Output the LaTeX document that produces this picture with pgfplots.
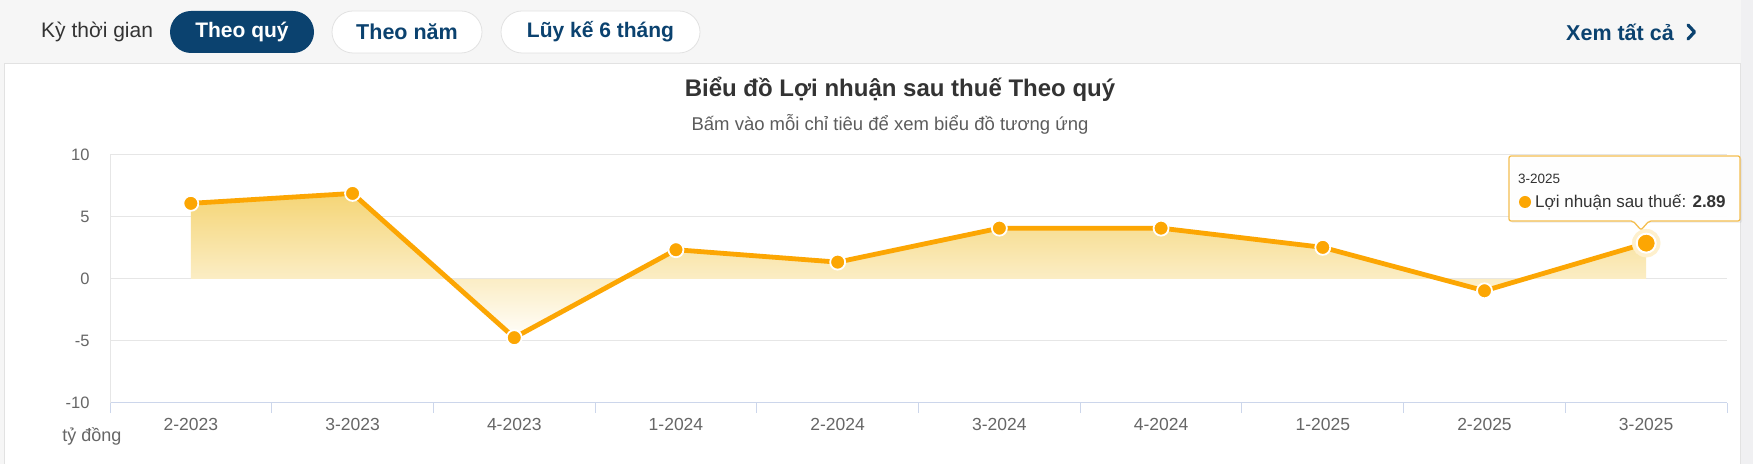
\documentclass[border=0pt]{standalone}
\usepackage{pgfplots}
\pgfplotsset{compat=1.18}
\usepackage{fontspec}
\setmainfont{Liberation Sans}
\definecolor{lineorange}{RGB}{252,166,3}
\definecolor{navy}{RGB}{11,66,111}
\definecolor{gridc}{RGB}{230,230,230}
\definecolor{axisc}{RGB}{204,214,235}
\definecolor{txt}{RGB}{51,51,51}
\definecolor{tickc}{RGB}{102,102,102}
\definecolor{bgray}{RGB}{246,246,246}
\definecolor{stripc}{RGB}{240,240,242}
\definecolor{pillborder}{RGB}{226,226,226}
\definecolor{tipborder}{RGB}{244,190,80}
\definecolor{filltop}{RGB}{245,213,118}
\definecolor{fillmid}{RGB}{253,244,218}
\definecolor{fillbot}{RGB}{255,254,251}
\definecolor{halo}{RGB}{254,240,205}
\newcommand\fs[1]{\fontsize{#1bp}{#1bp}\selectfont}

\pgfplotstableread{
x y
0 6.10
1 6.90
2 -4.73
3 2.36
4 1.36
5 4.10
6 4.10
7 2.55
8 -0.95
9 2.89
}\profit

\begin{document}
\begin{tikzpicture}[x=1bp,y=1bp]
\useasboundingbox (0,0) rectangle (1753,464);
% page background
\fill[bgray] (0,0) rectangle (1753,464);
\fill[stripc] (1741,0) rectangle (1753,464);
\fill[white] (5,0) rectangle (1740,400);
\draw[pillborder, line width=0.8bp] (4.5,0) -- (4.5,400.5) -- (1740.5,400.5) -- (1740.5,0);
% header
\node[anchor=west, font=\fs{21}, text=txt, inner sep=0] at (41,432) {Kỳ thời gian};
\fill[navy, rounded corners=21bp] (170,411) rectangle (314,453);
\node[font=\fs{21}\bfseries, text=white] at (242,432) {Theo quý};
\draw[pillborder, fill=white, rounded corners=21bp, line width=0.8bp] (332,411) rectangle (482,453);
\node[font=\fs{21.5}\bfseries, text=navy] at (407,432) {Theo năm};
\draw[pillborder, fill=white, rounded corners=21bp, line width=0.8bp] (501,411) rectangle (700,453);
\node[font=\fs{21}\bfseries, text=navy] at (600.5,432) {Lũy kế 6 tháng};
\node[anchor=west, font=\fs{21.5}\bfseries, text=navy, inner sep=0] at (1566,432) {Xem tất cả};
\draw[navy, line width=3.2bp, line cap=round, line join=round] (1688,439) -- (1694.5,432) -- (1688,425);
% titles
\node[font=\fs{24}\bfseries, text=txt] at (900,375) {Biểu đồ Lợi nhuận sau thuế Theo quý};
\node[font=\fs{18.5}, text=tickc!90!black] at (890,340) {Bấm vào mỗi chỉ tiêu để xem biểu đồ tương ứng};
\node[font=\fs{18}, text=tickc, inner sep=0] at (92,28) {tỷ đồng};

\begin{axis}[
  at={(110bp,61bp)}, anchor=south west,
  scale only axis, width=1617bp, height=248bp,
  xmin=-0.5, xmax=9.5, ymin=-10, ymax=10,
  clip=false,
  /pgf/number format/assume math mode=true,
  axis x line*=bottom, axis y line*=left,
  x axis line style={-, draw=axisc, line width=1bp},
  y axis line style={-, draw=gridc, line width=1bp},
  ytick={-10,-5,0,5,10},
  ymajorgrids, grid style={draw=gridc, line width=1bp},
  xtick={0,...,9},
  xticklabels={2-2023,3-2023,4-2023,1-2024,2-2024,3-2024,4-2024,1-2025,2-2025,3-2025},
  major tick length=0pt,
  extra x ticks={-0.5,0.5,1.5,2.5,3.5,4.5,5.5,6.5,7.5,8.5,9.5},
  extra x tick labels={},
  extra x tick style={major tick length=10bp, tick align=outside, major tick style={draw=axisc, line width=1bp}, grid=none},
  ticklabel style={font=\fs{17.5}, text=tickc},
  yticklabel style={xshift=-17bp, font=\fs{16.5}},
  xticklabel style={yshift=-12bp},
]
\addplot[draw=none, top color=filltop, middle color=fillmid, bottom color=fillbot] coordinates {(0,0) (0,6.10) (1,6.90) (2,-4.73) (3,2.36) (4,1.36) (5,4.10) (6,4.10) (7,2.55) (8,-0.95) (9,2.89) (9,0)};
\addplot[color=lineorange, line width=4.8bp, line join=round, mark=*, mark size=7.5bp,
  mark options={fill=lineorange, draw=white, line width=1.8bp}] table[x=x,y=y] {\profit};
\addplot[color=halo, only marks, mark=*, mark size=14bp, mark options={draw=halo, fill=halo}] coordinates {(9,2.89)};
\addplot[color=lineorange, only marks, mark=*, mark size=9.5bp, mark options={fill=lineorange, draw=white, line width=2bp}] coordinates {(9,2.89)};
\end{axis}

% tooltip
\fill[black, opacity=0.05, rounded corners=2bp] (1511,241) -- (1742,241) -- (1742,306) -- (1511,306) -- cycle;
\draw[tipborder, fill=white, fill opacity=0.96, line width=1.3bp, rounded corners=2bp]
  (1509,243) -- (1633,243) -- (1641,234) -- (1649,243) -- (1740,243) -- (1740,308) -- (1509,308) -- cycle;
\node[anchor=west, font=\fs{13.5}, text=txt, inner sep=0] at (1518,285) {3-2025};
\fill[lineorange] (1525,262) circle (6);
\node[anchor=west, font=\fs{17}, text=txt, inner sep=0] at (1535,262) {Lợi nhuận sau thuế: \textbf{2.89}};
\end{tikzpicture}
\end{document}
